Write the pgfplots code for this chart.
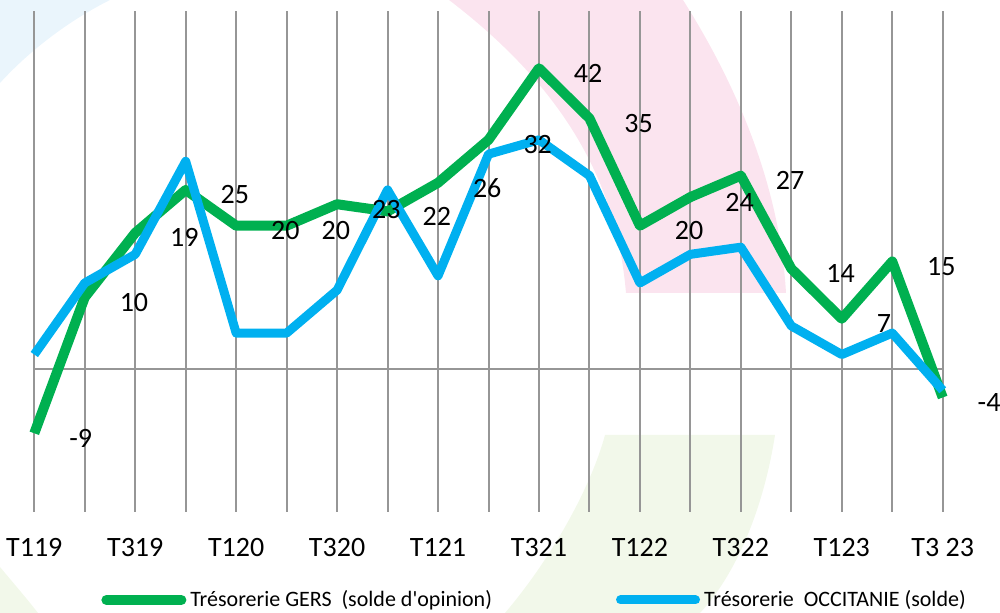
\documentclass[border=0pt]{standalone}
\usepackage{fontspec}
\setmainfont{Carlito}[Ligatures=TeXOff]
\usepackage{pgfplots}
\pgfplotsset{compat=1.18}
\definecolor{gersgreen}{HTML}{00B050}
\definecolor{occblue}{HTML}{00B0F0}
\definecolor{gridgray}{HTML}{969696}
\definecolor{bgpink}{HTML}{FBE4EF}
\definecolor{bggreen}{HTML}{F2F8EA}
\definecolor{bgblue}{HTML}{EAF5FC}

\begin{document}
\begin{tikzpicture}
\useasboundingbox (0,0) rectangle (500pt,306.5pt);
% faint logo shapes behind the chart (image pixel units)
\begin{scope}[x=0.5pt,y=-0.5pt,shift={(0pt,306.5pt)}]
  \fill[bgpink] (449,0) -- (683,0) .. controls (740,90) and (780,190) .. (786,293)
    -- (626,293) .. controls (618,200) and (580,100) .. (449,0) -- cycle;
  \fill[bggreen] (605,435) -- (775,435) .. controls (765,500) and (740,570) .. (700,613)
    -- (505,613) .. controls (550,560) and (590,490) .. (605,435) -- cycle;
  \fill[bggreen] (0,567) .. controls (15,585) and (28,600) .. (38,613) -- (0,613) -- cycle;
  \fill[bgblue] (0,0) -- (110,0) .. controls (70,20) and (30,50) .. (0,83) -- cycle;
\end{scope}
\begin{axis}[
  at={(17.15pt,50.5pt)}, anchor=south west,
  scale only axis, width=454.2pt, height=250.5pt,
  xmin=0, xmax=18, ymin=-20, ymax=50,
  axis line style={draw=none},
  clip=false,
  xtick={0,...,18},
  xticklabels={T119,,T319,,T120,,T320,,T121,,T321,,T122,,T322,,T123,,T3 23},
  xticklabel style={font=\fontsize{14}{16}\selectfont, anchor=base, yshift=-22.3pt},
  major tick length=0pt,
  xmajorgrids,
  major grid style={gridgray, line width=1pt},
  ytick=\empty,
  extra y ticks={0}, extra y tick labels={},
  extra y tick style={grid=major},
  legend columns=2,
  legend style={draw=none, fill=none, at={(0.5518,-0.1756)}, anchor=center,
    font=\fontsize{11}{13}\selectfont,
    /tikz/every even column/.append style={column sep=60pt}},
  legend image code/.code={\draw[#1, line cap=round] (0pt,0pt) -- (37.5pt,0pt);},
  nodes near coords style={anchor=west, inner sep=0pt, xshift=15pt, yshift=-2.5pt,
    font=\fontsize{14}{16}\selectfont, text=black},
]
\addplot[gersgreen, line width=5pt, line join=round, point meta=explicit symbolic,
  nodes near coords] coordinates {
  (0,-9) [-9] (1,10) [10] (2,19) [19] (3,25) [25] (4,20) [20] (5,20) [20]
  (6,23) [23] (7,22) [22] (8,26) [26] (9,32) [32] (10,42) [42] (11,35) [35]
  (12,20) [20] (13,24) [24] (14,27) [27] (15,14) [14] (16,7) [7] (17,15) [15]
  (18,-4) [-4]
};
\addlegendentry{Trésorerie GERS\ \ (solde d'opinion)}
\addplot[occblue, line width=4.5pt, line join=round] coordinates {
  (0,2) (1,12) (2,16) (3,29) (4,5) (5,5) (6,11) (7,25) (8,13) (9,30)
  (10,32) (11,27) (12,12) (13,16) (14,17) (15,6) (16,2) (17,5) (18,-3)
};
\addlegendentry{Trésorerie\ \ OCCITANIE (solde)}
\end{axis}
\end{tikzpicture}
\end{document}
